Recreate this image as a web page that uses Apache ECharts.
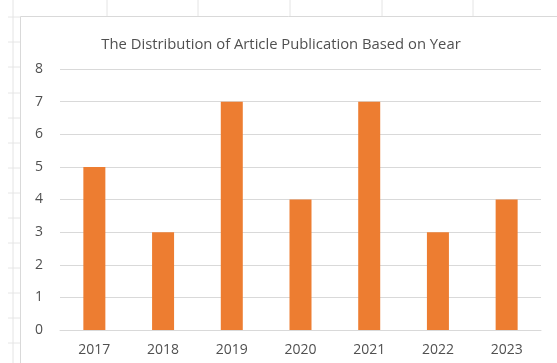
<!DOCTYPE html>
<html>
<head>
<meta charset="utf-8">
<script src="https://cdn.jsdelivr.net/npm/echarts@6/dist/echarts.min.js"></script>
<style>
  html, body { margin: 0; padding: 0; background: #ffffff; }
  #chart { width: 557px; height: 363px; }
</style>
</head>
<body>
<div id="chart"></div>
<script>
// Articles published per year
const years = ['2017', '2018', '2019', '2020', '2021', '2022', '2023'];
const articleCounts = [5, 3, 7, 4, 7, 3, 4];
const yTicks = [0, 1, 2, 3, 4, 5, 6, 7, 8];

const chart = echarts.init(document.getElementById('chart'));

// faint worksheet cell lines behind the chart frame
const sheetLines = [];
[107, 198, 290, 382, 473].forEach(function (x) {
  sheetLines.push({ type: 'line', shape: { x1: x, y1: 0, x2: x, y2: 16 }, style: { stroke: '#e4e4e4', lineWidth: 1 }, silent: true });
});
[17, 42, 67, 93, 118, 143, 168, 193, 218, 243, 268, 293, 318, 343].forEach(function (y) {
  sheetLines.push({ type: 'line', shape: { x1: 8, y1: y, x2: 20, y2: y }, style: { stroke: '#e6e6e6', lineWidth: 1 }, silent: true });
});
sheetLines.push({ type: 'line', shape: { x1: 13, y1: 0, x2: 13, y2: 363 }, style: { stroke: '#e4e4e4', lineWidth: 1 }, silent: true });
// chart frame
sheetLines.push({ type: 'polyline', shape: { points: [[20.5, 363], [20.5, 16.5], [557, 16.5]] }, style: { stroke: '#d9d9d9', lineWidth: 1, fill: null }, silent: true });

chart.setOption({
  backgroundColor: '#ffffff',
  animation: false,
  graphic: sheetLines,
  title: {
    text: 'The Distribution of Article Publication Based on Year',
    left: 276,
    top: 32,
    textAlign: 'center',
    textStyle: { fontFamily: 'Open Sans', fontSize: 14.8, fontWeight: 'normal', color: '#505050' }
  },
  grid: { left: 60, right: 16, top: 69, bottom: 33, containLabel: false },
  xAxis: {
    type: 'category',
    data: years,
    axisLine: { show: true, lineStyle: { color: '#d9d9d9' } },
    axisTick: { show: false },
    axisLabel: { color: '#505050', fontFamily: 'Open Sans', fontSize: 14, margin: 13 }
  },
  yAxis: {
    type: 'value',
    min: yTicks[0],
    max: yTicks[yTicks.length - 1],
    interval: 1,
    axisLine: { show: false },
    axisTick: { show: false },
    axisLabel: { color: '#505050', fontFamily: 'Open Sans', fontSize: 14, margin: 17 },
    splitLine: { lineStyle: { color: '#d9d9d9', width: 1 } }
  },
  series: [{
    type: 'bar',
    data: articleCounts,
    barWidth: 22,
    itemStyle: { color: '#ed7d31' }
  }]
});
</script>
</body>
</html>
